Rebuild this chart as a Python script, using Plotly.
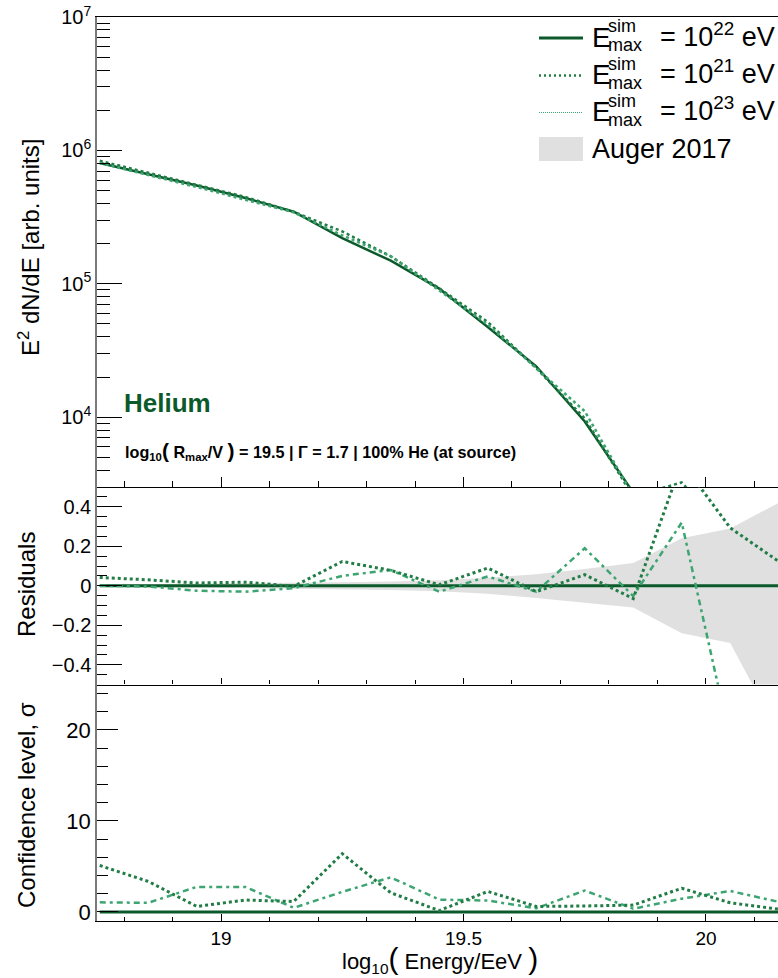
import plotly.graph_objects as go

# ---- data -----------------------------------------------------------------
log_e = [18.75, 18.85, 18.95, 19.05, 19.15, 19.25, 19.35, 19.45,
         19.55, 19.65, 19.75, 19.85, 19.95, 20.05, 20.15]

# E^2 dN/dE [arb. units]
flux_e22 = [8.05e5, 6.60e5, 5.45e5, 4.40e5, 3.47e5, 2.20e5, 1.49e5, 9.20e4,
            4.75e4, 2.40e4, 9.30e3, 2.72e3, 2.00e3, 1.00e3, 4.50e2]
flux_e21 = [8.37e5, 6.80e5, 5.53e5, 4.48e5, 3.46e5, 2.47e5, 1.61e5, 9.25e4,
            5.18e4, 2.33e4, 9.82e3, 2.54e3, 3.25e3, 1.29e3, 5.05e2]
flux_e23 = [8.05e5, 6.57e5, 5.31e5, 4.27e5, 3.43e5, 2.31e5, 1.61e5, 8.92e4,
            4.97e4, 2.33e4, 1.11e4, 2.58e3, 2.64e3, 2.20e2, 4.50e1]

# residuals with respect to E_max = 1e22 eV
resid_e22 = [0, 0, 0, 0, 0, 0, 0, 0, 0, 0, 0, 0, 0, 0, 0]
resid_e21 = [0.042, 0.030, 0.014, 0.018, -0.003, 0.123, 0.078, 0.005,
             0.090, -0.030, 0.056, -0.065, 0.625, 0.293, 0.123]
resid_e23 = [0.000, -0.004, -0.025, -0.030, -0.012, 0.050, 0.080, -0.030,
             0.047, -0.030, 0.190, -0.052, 0.320, -0.780, -0.900]

# Auger 2017 relative uncertainty band
auger_hi = [0.006, 0.008, 0.010, 0.012, 0.015, 0.018, 0.022, 0.028,
            0.040, 0.058, 0.085, 0.115, 0.240, 0.290, 0.420]
auger_lo = [-0.006, -0.008, -0.010, -0.012, -0.015, -0.018, -0.022, -0.028,
            -0.040, -0.062, -0.085, -0.110, -0.240, -0.290, -0.750]

# confidence level [sigma]
conf_e22 = [0, 0, 0, 0, 0, 0, 0, 0, 0, 0, 0, 0, 0, 0, 0]
conf_e21 = [5.1, 3.35, 0.6, 1.3, 1.15, 6.4, 2.1, 0.15,
            2.25, 0.6, 0.65, 0.75, 2.6, 1.0, 0.3]
conf_e23 = [1.05, 1.0, 2.75, 2.75, 0.45, 2.2, 3.8, 1.35,
            1.25, 0.4, 2.35, 0.35, 1.45, 2.3, 1.1]

log_flux_ticks = [1e4, 1e5, 1e6, 1e7]
log_flux_text = ["10<sup>4</sup>", "10<sup>5</sup>", "10<sup>6</sup>", "10<sup>7</sup>"]
resid_ticks = [-0.4, -0.2, 0, 0.2, 0.4]
resid_text = ["\u22120.4", "\u22120.2", "0", "0.2", "0.4"]
conf_ticks = [0, 10, 20]

# ---- styles -----------------------------------------------------------------
FONT = "Liberation Sans, Arial, Helvetica, sans-serif"
C22 = "#0c5a2b"
C21 = "#217d45"
C23 = "#3da571"
BAND = "#e0e0e0"

W, H = 778, 978
ML, MR, MT, MB = 97, 0, 17, 57
PW, PH = W - ML - MR, H - MT - MB


def px(x):
    return (x - ML) / PW


def py(y):
    return (H - MB - y) / PH


X_RANGE = [18.7443, 20.1485]

style21 = dict(color=C21, width=3, dash="3px,3px")
style23 = dict(color=C23, width=2.5, dash="6px,4px,3px,4px")
style22 = dict(color=C22, width=3)

fig = go.Figure()

# top panel: spectra
fig.add_trace(go.Scatter(x=log_e, y=flux_e22, mode="lines", line=dict(color=C22, width=2.5),
                         xaxis="x", yaxis="y", showlegend=False))
fig.add_trace(go.Scatter(x=log_e, y=flux_e21, mode="lines", line=dict(color=C21, width=2.5, dash="3px,3px"),
                         xaxis="x", yaxis="y", showlegend=False))
fig.add_trace(go.Scatter(x=log_e, y=flux_e23, mode="lines", line=dict(color=C23, width=2.5, dash="3px,3px"),
                         xaxis="x", yaxis="y", showlegend=False))

# middle panel: residuals
fig.add_trace(go.Scatter(x=log_e + log_e[::-1], y=auger_hi + auger_lo[::-1], mode="lines",
                         fill="toself", fillcolor=BAND, line=dict(width=0, color=BAND),
                         xaxis="x2", yaxis="y2", showlegend=False, hoverinfo="skip"))
fig.add_trace(go.Scatter(x=log_e, y=resid_e22, mode="lines", line=style22,
                         xaxis="x2", yaxis="y2", showlegend=False))
fig.add_trace(go.Scatter(x=log_e, y=resid_e23, mode="lines", line=style23,
                         xaxis="x2", yaxis="y2", showlegend=False))
fig.add_trace(go.Scatter(x=log_e, y=resid_e21, mode="lines", line=style21,
                         xaxis="x2", yaxis="y2", showlegend=False))

# bottom panel: confidence level
fig.add_trace(go.Scatter(x=log_e, y=conf_e22, mode="lines", line=style22,
                         xaxis="x3", yaxis="y3", showlegend=False))
fig.add_trace(go.Scatter(x=log_e, y=conf_e23, mode="lines", line=style23,
                         xaxis="x3", yaxis="y3", showlegend=False))
fig.add_trace(go.Scatter(x=log_e, y=conf_e21, mode="lines", line=style21,
                         xaxis="x3", yaxis="y3", showlegend=False))

top_dom = [py(487), 1.0]
mid_dom = [py(684.5), py(487)]
bot_dom = [0.0, py(684.5)]

xcommon = dict(range=X_RANGE, showgrid=False, zeroline=False, showline=True,
               linecolor="black", linewidth=1.2, ticks="inside", tickcolor="black",
               tickwidth=1, tickmode="linear", tick0=19, dtick=0.5)
ycommon = dict(showgrid=False, zeroline=False, showline=True, linecolor="#7a7a7a",
               linewidth=1.5, ticks="inside", tickcolor="black", tickwidth=1,
               tickfont=dict(family=FONT, size=20, color="black"))

fig.update_layout(
    width=W, height=H, autosize=False,
    margin=dict(l=ML, r=MR, t=MT, b=MB, pad=0),
    paper_bgcolor="white", plot_bgcolor="white",
    font=dict(family=FONT, color="black"),
    showlegend=False,
    xaxis=dict(xcommon, anchor="y", domain=[0, 1], showticklabels=False, mirror=True,
               ticklen=10, minor=dict(ticks="inside", ticklen=6, dtick=0.1, tick0=19,
                                       tickcolor="black", showgrid=False)),
    xaxis2=dict(xcommon, anchor="y2", domain=[0, 1], showticklabels=False,
                ticklen=6, minor=dict(ticks="inside", ticklen=4, dtick=0.1, tick0=19,
                                      tickcolor="black", showgrid=False)),
    xaxis3=dict(xcommon, anchor="y3", domain=[0, 1], showticklabels=True,
                ticklen=7, tickfont=dict(family=FONT, size=19, color="black"),
                ticklabelstandoff=0,
                minor=dict(ticks="inside", ticklen=4, dtick=0.1, tick0=19,
                           tickcolor="black", showgrid=False)),
    yaxis=dict(ycommon, anchor="x", domain=top_dom, type="log",
               range=[3.4771, 7.0], tickmode="array", tickvals=log_flux_ticks,
               ticktext=log_flux_text, ticklen=25,
               minor=dict(ticks="inside", ticklen=13, dtick="D1", tickcolor="black",
                          showgrid=False)),
    yaxis2=dict(ycommon, anchor="x2", domain=mid_dom, range=[-0.5, 0.5],
                tickmode="array", tickvals=resid_ticks, ticktext=resid_text, ticklen=25,
                minor=dict(ticks="inside", ticklen=10, dtick=0.05, tick0=0,
                           tickcolor="black", showgrid=False)),
    yaxis3=dict(ycommon, anchor="x3", domain=bot_dom, range=[-1, 25],
                tickmode="array", tickvals=conf_ticks, ticklen=21,
                tickfont=dict(family=FONT, size=22, color="black"),
                minor=dict(ticks="inside", ticklen=11, dtick=2, tick0=0,
                           tickcolor="black", showgrid=False)),
)

ann = []
# axis titles
ann.append(dict(text="E<sup>2</sup> dN/dE [arb. units]", x=px(29), y=py(248), textangle=-90,
                font=dict(size=24)))
ann.append(dict(text="Residuals", x=px(26), y=py(585), textangle=-90, font=dict(size=24)))
ann.append(dict(text="Confidence level, \u03c3", x=px(26), y=py(805), textangle=-90,
                font=dict(size=24)))
ann.append(dict(text="log<sub>10</sub><span style='font-size:30px'>(</span> Energy/EeV "
                     "<span style='font-size:30px'>)</span>",
                x=px(440), y=py(959), font=dict(size=22)))

# panel labels
ann.append(dict(text="<b>Helium</b>", x=px(123), y=py(403), xanchor="left",
                font=dict(size=26, color=C22)))
ann.append(dict(text="<b>log<sub>10</sub><span style='font-size:21px'>(</span> R<sub>max</sub>/V "
                     "<span style='font-size:21px'>)</span> = 19.5 | \u0393 = 1.7 | "
                     "100% He (at source)</b>",
                x=px(124), y=py(451), xanchor="left", font=dict(size=16.2)))

# legend
rows_y = [38, 75.5, 112.5, 149]
exps = ["22", "21", "23"]
for yy, ex in zip(rows_y[:3], exps):
    ann.append(dict(text="E", x=px(591), y=py(yy - 1), xanchor="left", font=dict(size=28)))
    ann.append(dict(text="sim", x=px(607), y=py(yy - 12), xanchor="left", font=dict(size=18)))
    ann.append(dict(text="max", x=px(607), y=py(yy + 7), xanchor="left", font=dict(size=18)))
    ann.append(dict(text="= 10<sup>%s</sup> eV" % ex, x=px(659), y=py(yy - 3), xanchor="left",
                    font=dict(size=27)))
ann.append(dict(text="Auger 2017", x=px(591), y=py(rows_y[3]), xanchor="left",
                font=dict(size=27)))

for a in ann:
    a.setdefault("xanchor", "center")
    a.update(xref="paper", yref="paper", yanchor="middle", showarrow=False, borderpad=0)
    a["font"] = dict(family=FONT, color=a["font"].get("color", "black"), size=a["font"]["size"])
fig.update_layout(annotations=ann)

shapes = [
    dict(type="line", x0=px(539), x1=px(583), y0=py(rows_y[0]), y1=py(rows_y[0]),
         line=dict(color=C22, width=3)),
    dict(type="line", x0=px(539), x1=px(583), y0=py(rows_y[1]), y1=py(rows_y[1]),
         line=dict(color=C21, width=2.5, dash="2px,3px")),
    dict(type="line", x0=px(539), x1=px(583), y0=py(rows_y[2]), y1=py(rows_y[2]),
         line=dict(color=C23, width=1.2, dash="1px,1px")),
    dict(type="rect", x0=px(539), x1=px(583), y0=py(rows_y[3] + 12), y1=py(rows_y[3] - 12),
         fillcolor=BAND, line=dict(width=0)),
]
for s in shapes:
    s.update(xref="paper", yref="paper")
fig.update_layout(shapes=shapes)

fig.write_html("out.html")
